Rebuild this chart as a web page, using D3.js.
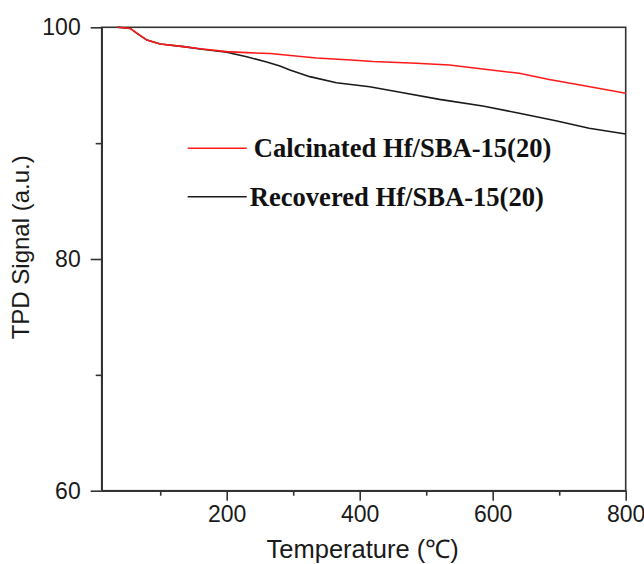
<!DOCTYPE html>
<html>
<head>
<meta charset="utf-8">
<script src="https://cdn.jsdelivr.net/npm/d3@7"></script>
<style>
  body { margin: 0; background: #fff; }
  .axis text { font-family: "Liberation Sans", Arial, sans-serif; font-size: 23px; fill: #1a1a1a; }
  .axis path, .axis line { stroke: #333; stroke-width: 1.6; }
  .line { fill: none; stroke-width: 1.6; }
</style>
</head>
<body>
<div id="chart"></div>
<script>
// temperature (°C) and TPD signal
var calcTemp = [36, 55, 65, 80, 100, 135, 160, 200, 230, 265, 300, 335, 387, 420, 485, 535, 585, 640, 685, 740, 800];
var calcSignal = [100, 99.9, 99.5, 98.9, 98.56, 98.33, 98.15, 97.9, 97.81, 97.74, 97.55, 97.35, 97.18, 97.05, 96.9, 96.75, 96.4, 96.03, 95.5, 94.93, 94.3];

var recTemp = [36, 55, 65, 80, 100, 135, 160, 200, 230, 260, 280, 295, 325, 365, 415, 465, 520, 585, 640, 695, 745, 800];
var recSignal = [100, 99.9, 99.48, 98.9, 98.56, 98.33, 98.13, 97.84, 97.46, 97.0, 96.66, 96.31, 95.74, 95.22, 94.87, 94.35, 93.78, 93.2, 92.58, 91.94, 91.28, 90.79];

var seriesNames = ["Calcinated Hf/SBA-15(20)", "Recovered Hf/SBA-15(20)"];
var seriesColors = ["#ff1a1a", "#1a1a1a"];

var xMajor = [200, 400, 600, 800], xMinor = [100, 300, 500, 700];
var yMajor = [60, 80, 100], yMinor = [70, 90];

var W = 644, H = 564;
var margin = {top: 27.3, right: 18.3, bottom: 73.3, left: 101.7},
    width = W - margin.left - margin.right,
    height = H - margin.top - margin.bottom;

var xScale = d3.scaleLinear().domain([12, 800]).range([0, width]);
var yScale = d3.scaleLinear().domain([60, 100]).range([height, 0]);

var svg = d3.select("#chart").append("svg")
    .attr("width", W)
    .attr("height", H)
  .append("g")
    .attr("transform", "translate(" + margin.left + "," + margin.top + ")");

// frame
svg.append("rect")
  .attr("width", width)
  .attr("height", height)
  .attr("fill", "none")
  .attr("stroke", "#333")
  .attr("stroke-width", 1.6);

// axes
svg.append("g").attr("class", "axis")
  .attr("transform", "translate(0," + height + ")")
  .call(d3.axisBottom(xScale).tickValues(xMinor).tickSize(5).tickSizeOuter(0).tickFormat(""));
svg.append("g").attr("class", "axis")
  .attr("transform", "translate(0," + height + ")")
  .call(d3.axisBottom(xScale).tickValues(xMajor).tickSize(10).tickSizeOuter(0).tickPadding(5));

svg.append("g").attr("class", "axis")
  .call(d3.axisLeft(yScale).tickValues(yMinor).tickSize(6).tickSizeOuter(0).tickFormat(""));
svg.append("g").attr("class", "axis")
  .call(d3.axisLeft(yScale).tickValues(yMajor).tickSize(11).tickSizeOuter(0).tickPadding(10));

// traces
var line = d3.line()
  .x(function(d) { return xScale(d[0]); })
  .y(function(d) { return yScale(d[1]); });

var recData = d3.zip(recTemp, recSignal);
var calcData = d3.zip(calcTemp, calcSignal);

svg.append("path").datum(recData)
  .attr("class", "line")
  .style("stroke", seriesColors[1])
  .attr("d", line);
svg.append("path").datum(calcData)
  .attr("class", "line")
  .style("stroke", seriesColors[0])
  .attr("d", line);

// axis titles
svg.append("text")
  .attr("x", width / 2 - 1)
  .attr("y", height + 67)
  .attr("text-anchor", "middle")
  .style("font-family", "'Liberation Sans', Arial, sans-serif")
  .style("font-size", "25.5px")
  .attr("fill", "#1a1a1a")
  .text("Temperature (\u2103)");

svg.append("text")
  .attr("transform", "translate(" + (-margin.left + 29) + "," + 220 + ") rotate(-90)")
  .attr("text-anchor", "middle")
  .style("font-family", "'Liberation Sans', Arial, sans-serif")
  .style("font-size", "24px")
  .attr("fill", "#1a1a1a")
  .text("TPD Signal (a.u.)");

// legend
var legend = svg.append("g").attr("transform", "translate(86,121)");
seriesNames.forEach(function(name, i) {
  var g = legend.append("g").attr("transform", "translate(0," + (i * 48.5) + ")");
  g.append("line")
    .attr("x1", 0).attr("x2", 59)
    .attr("y1", 0).attr("y2", 0)
    .attr("stroke", seriesColors[i])
    .attr("stroke-width", 1.6);
  g.append("text")
    .attr("x", 66 - i * 4)
    .attr("y", 9)
    .style("font-family", "'Liberation Serif', 'Times New Roman', serif")
    .style("font-weight", "bold")
    .style("font-size", "26.6px")
    .attr("fill", "#111")
    .text(name);
});
</script>
</body>
</html>
